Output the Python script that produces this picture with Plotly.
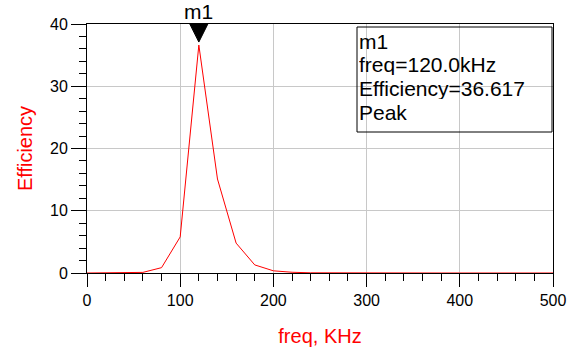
import plotly.graph_objects as go

freq_khz = [0, 20, 40, 60, 80, 100, 120, 140, 160, 180, 200, 220, 240, 260, 280,
            300, 320, 340, 360, 380, 400, 420, 440, 460, 480, 500]
efficiency = [0.0, 0.0, 0.05, 0.1, 0.86, 5.8, 36.617, 15.1, 4.8, 1.3, 0.35, 0.12, 0.03,
              0.01, 0.0, 0.0, 0.0, 0.0, 0.0, 0.0, 0.0, 0.0, 0.0, 0.0, 0.0, 0.0]
marker_name = "m1"
marker_x = 120
marker_y = 36.617
x_ticks = [0, 100, 200, 300, 400, 500]
y_ticks = [0, 10, 20, 30, 40]

FONT = "Liberation Sans, Arial, sans-serif"

# plot area in pixels (for placing the readout box)
PL, PR, PT, PB = 87, 553, 24, 273


def px_to_paper_x(px):
    return (px - PL) / (PR - PL)


def px_to_paper_y(py):
    return (PB - py) / (PB - PT)


fig = go.Figure()
fig.add_trace(go.Scatter(x=freq_khz, y=efficiency, mode="lines",
                         line=dict(color="#ff0000", width=1), cliponaxis=False,
                         hoverinfo="skip", showlegend=False))

# marker triangle anchored at the peak
fig.add_shape(type="path", xref="x", yref="y", xsizemode="pixel", ysizemode="pixel",
              xanchor=marker_x, yanchor=marker_y,
              path="M -9 21 L 9 21 L 0 3 Z",
              fillcolor="black", line=dict(color="black", width=1), layer="above")
fig.add_annotation(x=marker_x, y=marker_y, xref="x", yref="y", text=marker_name,
                   showarrow=False, yshift=34, font=dict(family=FONT, size=21, color="black"))

# marker readout box
fig.add_shape(type="rect", xref="paper", yref="paper",
              x0=px_to_paper_x(357), x1=px_to_paper_x(552),
              y0=px_to_paper_y(132), y1=px_to_paper_y(27),
              line=dict(color="black", width=1), fillcolor="rgba(0,0,0,0)", layer="above")
readout_lines = [marker_name, f"freq={marker_x:.1f}kHz", f"Efficiency={marker_y:.3f}", "Peak"]
line_centers_px = [41, 64, 88, 112]
for txt, cy in zip(readout_lines, line_centers_px):
    fig.add_annotation(xref="paper", yref="paper", x=px_to_paper_x(358), y=px_to_paper_y(cy),
                       xanchor="left", yanchor="middle", align="left", showarrow=False,
                       height=22, borderpad=0,
                       text=txt, font=dict(family=FONT, size=21, color="black"))

fig.update_layout(
    width=576, height=350,
    margin=dict(l=PL, r=576 - PR, t=PT, b=350 - PB, autoexpand=False),
    paper_bgcolor="white", plot_bgcolor="white",
    font=dict(family=FONT, size=16, color="black"),
    xaxis=dict(range=[0, 500], tickvals=x_ticks, ticks="outside", ticklen=13, tickcolor="black",
               showline=True, linecolor="black", linewidth=1, mirror=True, automargin=False,
               showgrid=True, gridcolor="#c8c8c8", gridwidth=1, zeroline=False,
               layer="below traces",
               minor=dict(dtick=20, ticks="outside", ticklen=7, tickcolor="black", showgrid=False),
               title=dict(text="freq, KHz", font=dict(family=FONT, size=20, color="#ff0000"), standoff=20)),
    yaxis=dict(range=[0, 40], tickvals=y_ticks, ticks="outside", ticklen=15, tickcolor="black",
               showline=True, linecolor="black", linewidth=1, mirror=True, automargin=False,
               showgrid=True, gridcolor="#c8c8c8", gridwidth=1, zeroline=False,
               layer="below traces",
               minor=dict(dtick=2, ticks="outside", ticklen=7, tickcolor="black", showgrid=False),
               title=dict(text="Efficiency", font=dict(family=FONT, size=20, color="#ff0000"), standoff=12)),
)

fig.write_html("out.html")
